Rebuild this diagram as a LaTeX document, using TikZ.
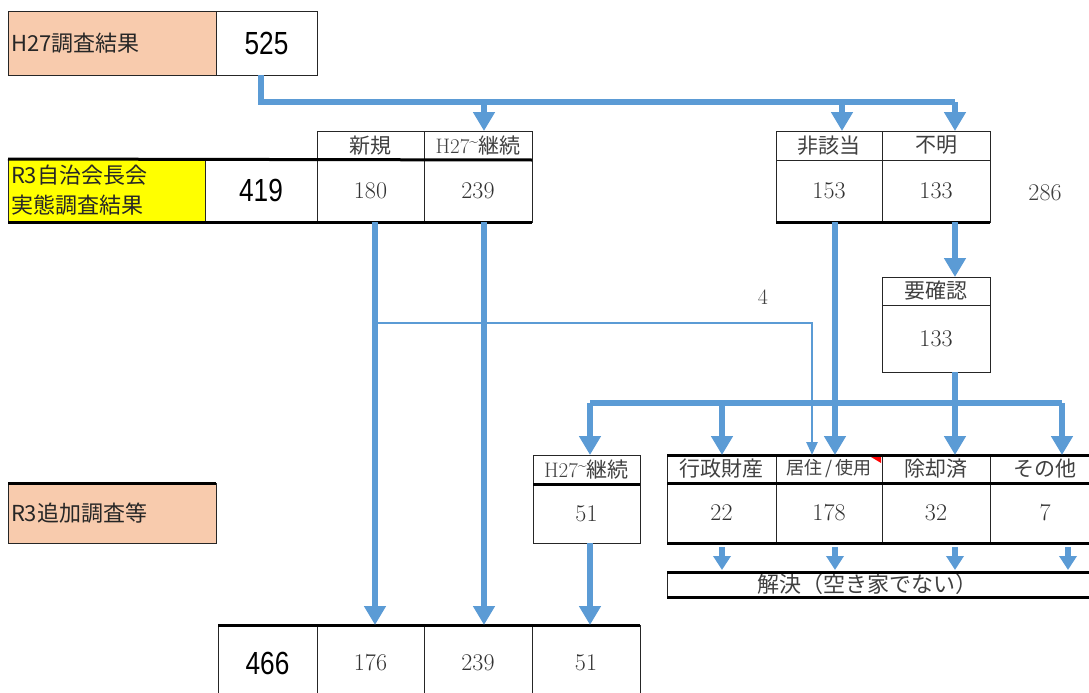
\documentclass[tikz,border=0pt]{standalone}
\usepackage{fontspec}
\newfontfamily\jp{Noto Sans CJK JP}
\newfontfamily\lsans{Liberation Sans}
\usetikzlibrary{arrows.meta}
\definecolor{peach}{HTML}{F8CBAD}
\definecolor{arrowblue}{HTML}{5B9BD5}
\definecolor{ylw}{HTML}{FFFF00}
\tikzset{
  box/.style={draw=black!85, line width=1pt, anchor=north west, inner sep=0pt, outer sep=0pt},
  hdr/.style={box, minimum height=29pt, font=\jp\fontsize{21}{21}\selectfont, text=black!75},
  val/.style={box, font=\fontsize{24}{24}\selectfont, text=black!80},
  big/.style={box, font=\lsans\fontsize{32}{32}\selectfont, text=black},
  lbl/.style={box, fill=peach, align=left, inner xsep=3pt, font=\jp\fontsize{22}{30}\selectfont, text=black!85},
  plain/.style={font=\fontsize{22}{22}\selectfont, text=black!75},
  rule/.style={line width=3pt, black},
  flow/.style={line width=6pt, arrowblue},
  flowarrow/.style={flow, -{Triangle[width=21pt,length=19pt]}},
  smallarrow/.style={flow, -{Triangle[width=17pt,length=14pt]}, shorten <=4pt, shorten >=2pt},
  thinflow/.style={line width=2.6pt, arrowblue, -{Triangle[width=11pt,length=13pt]}}
}
\begin{document}
\begin{tikzpicture}[x=1pt,y=-1pt]
\useasboundingbox (0,0) rectangle (1089,693);
\clip (0,0) rectangle (1089,693);
% top
\node[lbl, text width=202pt, minimum height=63pt] (l525) at (8,12) {H27調査結果};
\node[big, minimum width=101pt, minimum height=63pt] (v525) at (216,12) {\scalebox{0.82}[1]{525}};
% R3 row
\node[lbl, fill=ylw, text width=191pt, minimum height=63pt] (lR3) at (8,159) {R3自治会長会\\実態調査結果};
\node[big, minimum width=112pt, minimum height=63pt] (v419) at (205,159) {\scalebox{0.82}[1]{419}};
\node[hdr, minimum width=107pt] (hshinki) at (317,131) {新規};
\node[val, minimum width=107pt, minimum height=62pt] (vshinki) at (317,160) {180};
\node[hdr, minimum width=108pt] (hkeizoku) at (424,131) {{\rmfamily H27\raisebox{0.32em}{\fontsize{16}{16}\selectfont\textasciitilde}}継続};
\node[val, minimum width=108pt, minimum height=62pt] (vkeizoku) at (424,160) {239};
\node[hdr, minimum width=106pt] (hhigai) at (776,131) {非該当};
\node[val, minimum width=106pt, minimum height=62pt] (vhigai) at (776,160) {153};
\node[hdr, minimum width=108pt] (hfumei) at (882,131) {不明};
\node[val, minimum width=108pt, minimum height=62pt] (vfumei) at (882,160) {133};
\node[plain, font=\fontsize{24}{24}\selectfont] (t286) at (1045,193) {286};
% confirm
\node[hdr, minimum width=108pt, minimum height=28pt] (hyou) at (882,277) {要確認};
\node[val, minimum width=108pt, minimum height=67pt] (vyou) at (882,305) {133};
\node[plain] (t4) at (763,297) {4};
% R3 additional
\node[lbl, text width=202pt, minimum height=60pt] (lR3b) at (8,483) {R3追加調査等};
\node[hdr, minimum width=107pt] (hk2) at (533,455) {{\rmfamily H27\raisebox{0.32em}{\fontsize{16}{16}\selectfont\textasciitilde}}継続};
\node[val, minimum width=107pt, minimum height=59pt] (vk2) at (533,484) {51};
\node[hdr, minimum width=109pt, minimum height=28pt] (hgyo) at (667,455) {行政財産};
\node[val, minimum width=109pt, minimum height=60pt] (vgyo) at (667,483) {22};
\node[hdr, minimum width=106pt, minimum height=28pt, font=\jp\fontsize{18}{18}\selectfont] (hkyo) at (776,455) {居住\,/\,使用};
\node[val, minimum width=106pt, minimum height=60pt] (vkyo) at (776,483) {178};
\node[hdr, minimum width=108pt, minimum height=28pt] (hjo) at (882,455) {除却済};
\node[val, minimum width=108pt, minimum height=60pt] (vjo) at (882,483) {32};
\node[hdr, minimum width=110pt, minimum height=28pt] (hsono) at (990,455) {その他};
\node[val, minimum width=110pt, minimum height=60pt] (vsono) at (990,483) {7};
\fill[red] (871,457) -- (881,457) -- (881,463) -- cycle;
\node[box, minimum width=440pt, minimum height=25pt] (kaiketsu) at (667,572) {};
\node[hdr, draw=none, anchor=center, font=\jp\fontsize{22}{22}\selectfont] (tkaiketsu) at (867,584.5) {解決（空き家でない）};
% bottom row
\node[big, minimum width=99pt, minimum height=76pt] (v466) at (218,625) {\scalebox{0.82}[1]{466}};
\node[val, minimum width=107pt, minimum height=76pt] (v176) at (317,625) {176};
\node[val, minimum width=108pt, minimum height=76pt] (v239b) at (424,625) {239};
\node[val, minimum width=108pt, minimum height=76pt] (v51b) at (532,625) {51};
% thick rules
\draw[rule] (lR3.north west) -- (vkeizoku.north east);
\draw[rule] (lR3.south west) -- (vkeizoku.south east);
\draw[rule] (vhigai.south west) -- (vfumei.south east);
\draw[rule] (vk2.north west) -- (vk2.north east);
\draw[rule] (hgyo.north west) -- (hsono.north east);
\draw[rule] (vgyo.north west) -- (vsono.north east);
\draw[rule] (vgyo.south west) -- (vsono.south east);
\draw[rule] (kaiketsu.north west) -- (kaiketsu.north east);
\draw[rule] (kaiketsu.south west) -- (kaiketsu.south east);
\draw[rule] (v466.north west) -- (v51b.north east);
\draw[rule] (lR3b.north west) -- (lR3b.north east);
% anchor coordinates for arrows
\coordinate (bus1y) at (0,102);
\coordinate (bus2y) at (0,403);
\coordinate (b0) at ([xshift=-6pt]v525.south);
\coordinate (ak) at ([xshift=6pt]hkeizoku.north);
\coordinate (ah) at ([xshift=13pt]hhigai.north);
\coordinate (af) at ([xshift=19pt]hfumei.north);
% top bus
\draw[flow] (b0) -- (b0 |- bus1y) -- (af |- bus1y);
\draw[flowarrow] (ak |- bus1y) -- (ak);
\draw[flowarrow] (ah |- bus1y) -- (ah);
\draw[flowarrow] (af |- bus1y) -- (af);
% verticals
\coordinate (as) at ([xshift=4.5pt]vshinki.south);
\draw[flowarrow] (as) -- ([xshift=4.5pt]v176.north);
\draw[flowarrow] ([xshift=6pt]vkeizoku.south) -- ([xshift=6pt]v239b.north);
\draw[flowarrow] ([xshift=3.5pt]vk2.south) -- ([xshift=4pt]v51b.north);
\draw[flowarrow] ([xshift=6pt]vhigai.south) -- ([xshift=6pt]hkyo.north);
\draw[flowarrow] ([xshift=19pt]vfumei.south) -- ([xshift=19pt]hyou.north);
\draw[flowarrow] ([xshift=19pt]vyou.south) -- ([xshift=19pt]hjo.north);
% thin line (4)
\coordinate (e4) at ([xshift=-17pt]hkyo.north);
\draw[thinflow] (as |- 0,323) -| (e4);
% second bus
\coordinate (c1) at ([xshift=3.5pt]hk2.north);
\coordinate (c2) at ([xshift=0.5pt]hgyo.north);
\coordinate (c3) at ([xshift=17pt]hsono.north);
\draw[flow] (c1 |- bus2y) -- (c3 |- bus2y);
\draw[flowarrow] (c1 |- bus2y) -- (c1);
\draw[flowarrow] (c2 |- bus2y) -- (c2);
\draw[flowarrow] (c3 |- bus2y) -- (c3);
% small arrows to kaiketsu
\coordinate (d1) at ([xshift=0.5pt]vgyo.south);
\coordinate (d2) at ([xshift=6pt]vkyo.south);
\coordinate (d3) at ([xshift=19pt]vjo.south);
\coordinate (d4) at ([xshift=23pt]vsono.south);
\draw[smallarrow] (d1) -- (d1 |- kaiketsu.north);
\draw[smallarrow] (d2) -- (d2 |- kaiketsu.north);
\draw[smallarrow] (d3) -- (d3 |- kaiketsu.north);
\draw[smallarrow] (d4) -- (d4 |- kaiketsu.north);
\end{tikzpicture}
\end{document}
